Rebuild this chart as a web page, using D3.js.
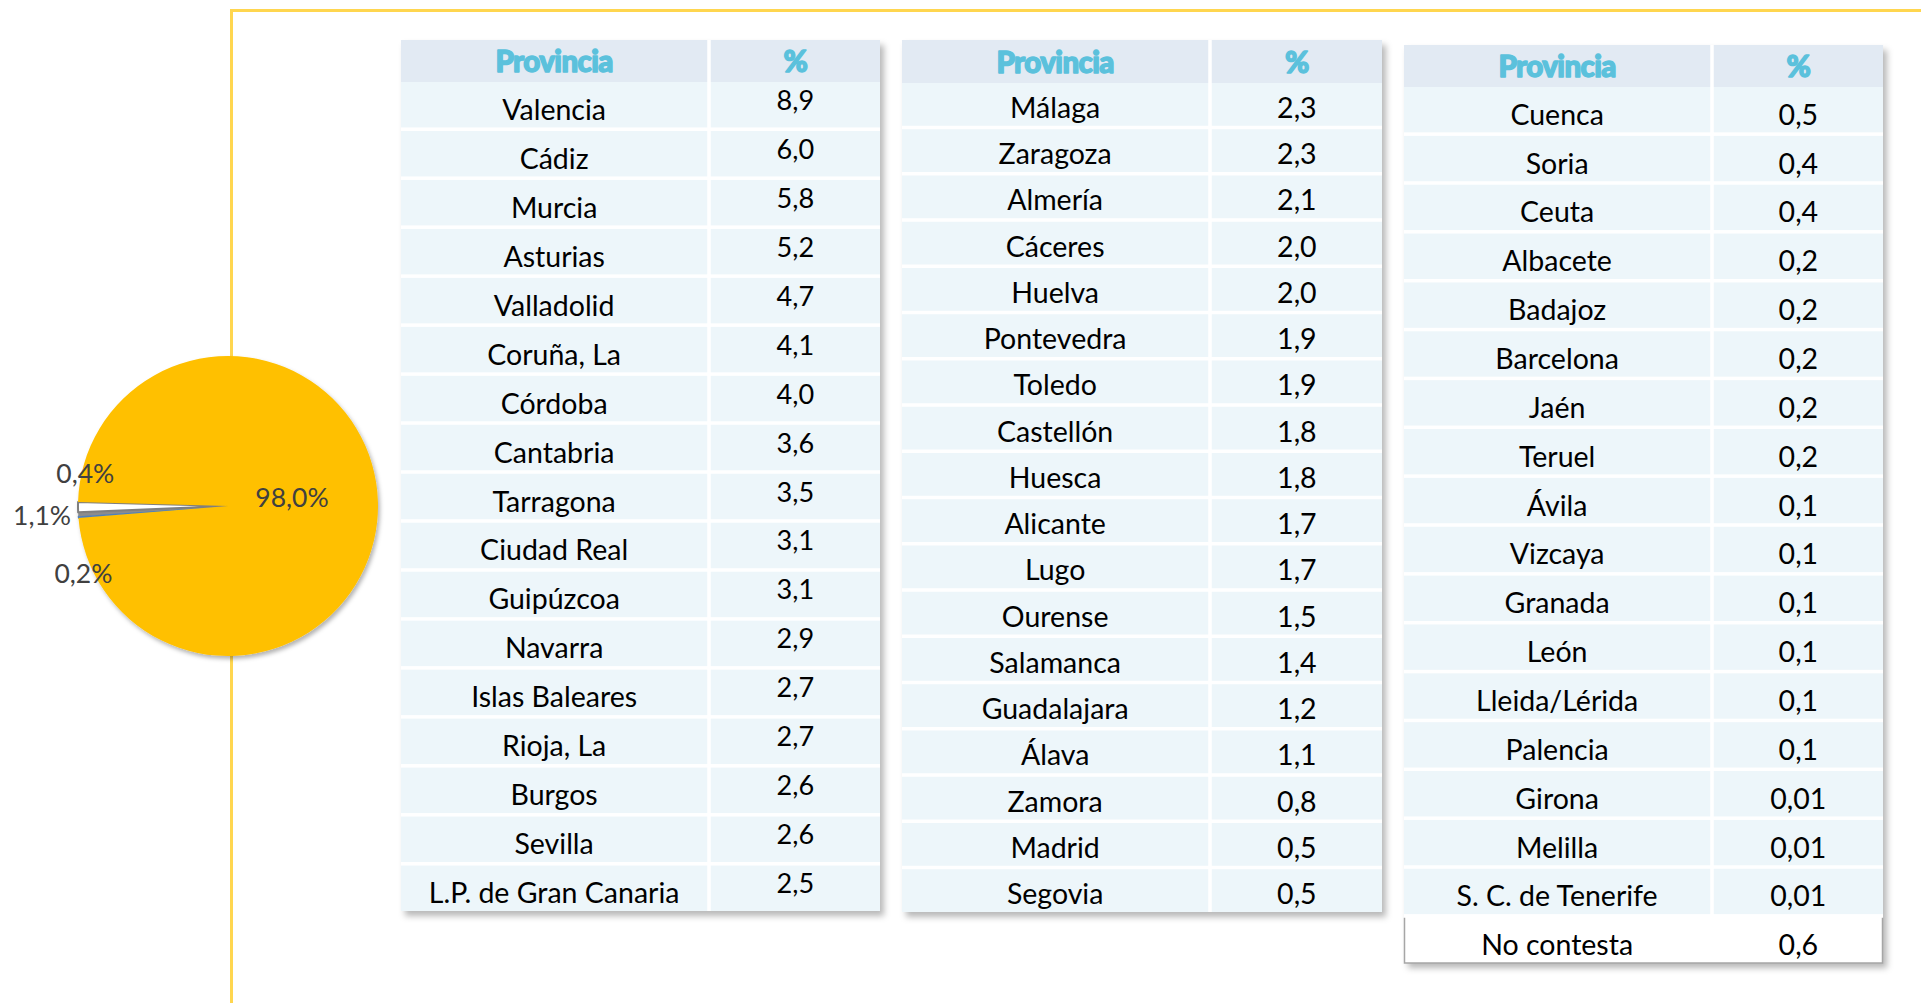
<!DOCTYPE html>
<html>
<head>
<meta charset="utf-8">
<script src="https://cdn.jsdelivr.net/npm/d3@7/dist/d3.min.js"></script>
<style>
  html, body { margin: 0; padding: 0; background: #ffffff; }
  svg { display: block; }
</style>
</head>
<body>
<svg id="chart" width="1921" height="1003"></svg>
<script>
// ---------------- DATA ----------------
const headerProvincia = "Provincia";
const headerPct = "%";

const provincias1 = ["Valencia","Cádiz","Murcia","Asturias","Valladolid","Coruña, La","Córdoba","Cantabria","Tarragona","Ciudad Real","Guipúzcoa","Navarra","Islas Baleares","Rioja, La","Burgos","Sevilla","L.P. de Gran Canaria"];
const valores1 = ["8,9","6,0","5,8","5,2","4,7","4,1","4,0","3,6","3,5","3,1","3,1","2,9","2,7","2,7","2,6","2,6","2,5"];

const provincias2 = ["Málaga","Zaragoza","Almería","Cáceres","Huelva","Pontevedra","Toledo","Castellón","Huesca","Alicante","Lugo","Ourense","Salamanca","Guadalajara","Álava","Zamora","Madrid","Segovia"];
const valores2 = ["2,3","2,3","2,1","2,0","2,0","1,9","1,9","1,8","1,8","1,7","1,7","1,5","1,4","1,2","1,1","0,8","0,5","0,5"];

const provincias3 = ["Cuenca","Soria","Ceuta","Albacete","Badajoz","Barcelona","Jaén","Teruel","Ávila","Vizcaya","Granada","León","Lleida/Lérida","Palencia","Girona","Melilla","S. C. de Tenerife","No contesta"];
const valores3 = ["0,5","0,4","0,4","0,2","0,2","0,2","0,2","0,2","0,1","0,1","0,1","0,1","0,1","0,1","0,01","0,01","0,01","0,6"];

const pieValues = [0.2, 0.4, 1.1, 98.0];
const pieLabels = ["0,2%", "0,4%", "1,1%", "98,0%"];

// ---------------- STYLE / LAYOUT ----------------
const FONT = "Lato, 'Open Sans', sans-serif";
const pieColors = ["#4F81BD", "#8C8C8C", "#FFFFFF", "#FFC000"];
const headerFill = "#E2EAF3";
const rowFill = "#EDF6FA";
const headerColor = "#5BC1DC";
const frameColor = "#FFD64F";

const svg = d3.select("#chart");
const defs = svg.append("defs");
const shadow = defs.append("filter").attr("id", "shadow")
  .attr("x", "-5%").attr("y", "-5%").attr("width", "115%").attr("height", "115%");
shadow.append("feDropShadow").attr("dx", 4).attr("dy", 5).attr("stdDeviation", 3)
  .attr("flood-color", "#000").attr("flood-opacity", 0.28);
const pieShadow = defs.append("filter").attr("id", "pieshadow")
  .attr("x", "-10%").attr("y", "-10%").attr("width", "125%").attr("height", "125%");
pieShadow.append("feDropShadow").attr("dx", 2).attr("dy", 3).attr("stdDeviation", 2)
  .attr("flood-color", "#000").attr("flood-opacity", 0.3);

// Frame lines
svg.append("path")
  .attr("d", d3.line()([[231.5, 1003], [231.5, 10.5], [1921, 10.5]]))
  .attr("fill", "none").attr("stroke", frameColor).attr("stroke-width", 3);

// ---------------- PIE ----------------
const cx = 228, cy = 506, R = 150;
const startDeg = 265.4;
const pie = d3.pie().sort(null).value(d => d)
  .startAngle(startDeg * Math.PI / 180)
  .endAngle(startDeg * Math.PI / 180 + 2 * Math.PI);
const arcs = pie(pieValues);
const arc = d3.arc().innerRadius(0).outerRadius(R);
const gPie = svg.append("g").attr("transform", `translate(${cx},${cy})`);
const gSlices = gPie.append("g").attr("filter", "url(#pieshadow)");
gSlices.selectAll("path").data(arcs).join("path")
  .attr("d", arc)
  .attr("fill", (d, i) => pieColors[i])
  .attr("stroke", (d, i) => i === 2 ? "#7F7F7F" : (i === 0 ? "#4F81BD" : "none"))
  .attr("stroke-width", (d, i) => i === 2 ? 2 : 1.2)
  .attr("stroke-linejoin", "round");

// labels: inner label for big slice, outer labels for tiny slices (spread to avoid collisions)
const innerArc = d3.arc().innerRadius(64).outerRadius(64);
const outerArc = d3.arc().innerRadius(R + 20).outerRadius(R + 20);
const labelNudge = [[25, 55], [27, -42], [-16, 8], [0, -7]];
gPie.selectAll("text").data(arcs).join("text")
  .attr("transform", (d, i) => {
    const c = (i === 3 ? innerArc : outerArc).centroid(d);
    return `translate(${c[0] + labelNudge[i][0]},${c[1] + labelNudge[i][1]})`;
  })
  .attr("text-anchor", "middle")
  .attr("dy", "0.35em")
  .attr("font-family", FONT)
  .attr("font-size", 26.5)
  .attr("fill", "#404040")
  .text((d, i) => pieLabels[i]);

// ---------------- TABLES ----------------
const tables = [
  { prov: provincias1, vals: valores1, x0: 401, split: 709, x1: 880, top: 40, head: 82, bottom: 911, textShift: 15, valShift: -10, valScale: 0.95 },
  { prov: provincias2, vals: valores2, x0: 902, split: 1210, x1: 1382, top: 40, head: 83, bottom: 912, textShift: 13.5, valShift: 0, valScale: 1 },
  { prov: provincias3, vals: valores3, x0: 1404, split: 1712, x1: 1883, top: 45, head: 87, bottom: 963, textShift: 15, valShift: 0, valScale: 1, lastWhite: true }
];
const GAP = 3.5;
const fontSize = 28.5;

tables.forEach(t => {
  const g = svg.append("g");
  const y = d3.scaleBand().domain(t.prov).range([t.head, t.bottom + GAP]).paddingInner(0).paddingOuter(0);
  const colX = d3.scaleOrdinal().domain(["p", "v"]).range([t.x0, t.split + GAP / 2]);
  const colW = { p: t.split - GAP / 2 - t.x0, v: t.x1 - t.split - GAP / 2 };

  // shadow backdrop
  g.append("rect")
    .attr("x", t.x0).attr("y", t.top)
    .attr("width", t.x1 - t.x0).attr("height", t.bottom - t.top)
    .attr("fill", "#ffffff").attr("filter", "url(#shadow)");

  // header cells
  ["p", "v"].forEach(k => {
    g.append("rect").attr("x", colX(k)).attr("y", t.top)
      .attr("width", colW[k]).attr("height", t.head - t.top).attr("fill", headerFill);
  });
  [["p", headerProvincia], ["v", headerPct]].forEach(([k, label]) => {
    g.append("text").attr("x", colX(k) + colW[k] / 2).attr("y", (t.top + t.head) / 2 + 11)
      .attr("text-anchor", "middle").attr("font-family", FONT).attr("font-weight", 900)
      .attr("font-size", 29.5).attr("fill", headerColor)
      .attr("stroke", headerColor).attr("stroke-width", 1.4).attr("stroke-linejoin", "round")
      .attr("letter-spacing", -0.6).text(label);
  });

  const rows = g.selectAll("g.row").data(t.prov).join("g").attr("class", "row");
  const isWhite = (i) => t.lastWhite && i === t.prov.length - 1;
  ["p", "v"].forEach(k => {
    rows.append("rect")
      .attr("x", colX(k)).attr("y", d => y(d))
      .attr("width", colW[k]).attr("height", y.bandwidth() - GAP)
      .attr("fill", (d, i) => isWhite(i) ? "#ffffff" : rowFill);
  });
  rows.append("text")
    .attr("x", colX("p") + colW.p / 2)
    .attr("y", d => y(d) + (y.bandwidth() - GAP) / 2 + t.textShift)
    .attr("text-anchor", "middle").attr("font-family", FONT).attr("font-size", fontSize)
    .attr("fill", "#000").text(d => d);
  rows.append("text")
    .attr("x", colX("v") + colW.v / 2)
    .attr("y", d => y(d) + (y.bandwidth() - GAP) / 2 + t.textShift + t.valShift)
    .attr("text-anchor", "middle").attr("font-family", FONT).attr("font-size", fontSize * t.valScale)
    .attr("fill", "#000").text((d, i) => t.vals[i]);

  if (t.lastWhite) {
    const last = t.prov[t.prov.length - 1];
    const yb = y(last) + y.bandwidth() - GAP;
    g.append("path")
      .attr("d", d3.line()([[t.x0 + 0.5, y(last)], [t.x0 + 0.5, yb], [t.x1 - 0.5, yb], [t.x1 - 0.5, y(last)]]))
      .attr("fill", "none").attr("stroke", "#A6A6A6").attr("stroke-width", 1.5);
  }
});
</script>
</body>
</html>
